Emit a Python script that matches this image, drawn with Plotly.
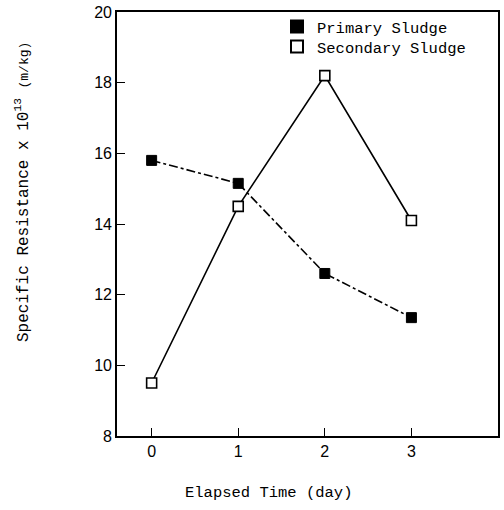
import plotly.graph_objects as go

days = [0, 1, 2, 3]
primary = [15.8, 15.15, 12.6, 11.35]
secondary = [9.5, 14.5, 18.2, 14.1]
x_ticks = [0, 1, 2, 3]
y_ticks = [8, 10, 12, 14, 16, 18, 20]

mono = "Liberation Mono, Courier New, monospace"
narrow = "Liberation Sans Narrow, Arial Narrow, Liberation Sans, sans-serif"

L, R, T, B = 117, 6, 12, 74
W, H = 504, 510
PW, PH = W - L - R, H - T - B

fig = go.Figure()
fig.add_trace(go.Scatter(
    x=days, y=primary, mode="lines+markers", showlegend=False,
    line=dict(color="black", width=1.6, dash="dashdot"),
    marker=dict(symbol="square", size=10, color="black", line=dict(color="black", width=1))))
fig.add_trace(go.Scatter(
    x=days, y=secondary, mode="lines+markers", showlegend=False,
    line=dict(color="black", width=1.6),
    marker=dict(symbol="square", size=10, color="white", line=dict(color="black", width=1.6))))
# legend entries
fig.add_trace(go.Scatter(
    x=[None], y=[None], mode="markers", name="Primary Sludge", legend="legend",
    marker=dict(symbol="square", size=10, color="black", line=dict(color="black", width=1))))
fig.add_trace(go.Scatter(
    x=[None], y=[None], mode="markers", name="Secondary Sludge", legend="legend2",
    marker=dict(symbol="square", size=10, color="white", line=dict(color="black", width=1.4))))

axis_common = dict(showline=True, linecolor="black", linewidth=1.6, mirror=True,
                   showgrid=False, zeroline=False, ticks="inside", ticklen=8,
                   tickwidth=1.4, tickcolor="black", automargin=False,
                   ticklabeloverflow="allow",
                   tickfont=dict(family=narrow, size=16, color="black"))
fig.update_xaxes(range=[-0.4, 4.0], tickvals=x_ticks, **axis_common)
fig.update_yaxes(range=[8, 20], tickvals=y_ticks, **axis_common)

leg_common = dict(xanchor="left", yanchor="top", bgcolor="rgba(0,0,0,0)", borderwidth=0,
                  font=dict(family=mono, size=15.5, color="black"), itemsizing="constant")
lx = (277 - L) / PW

fig.update_layout(
    width=W, height=H,
    margin=dict(l=L, r=R, t=T, b=B, autoexpand=False),
    paper_bgcolor="white", plot_bgcolor="white",
    legend=dict(x=lx, y=1 + (T - 10) / PH, **leg_common),
    legend2=dict(x=lx, y=1 - (30 - T) / PH, **leg_common),
    annotations=[
        dict(text="Elapsed Time (day)", xref="paper", yref="paper",
             x=(268 - L) / PW, y=-(493 - (T + PH)) / PH, xanchor="center", yanchor="middle",
             showarrow=False, font=dict(family=mono, size=15.5, color="black")),
        dict(text="Specific Resistance x 10<sup>13</sup> <span style='font-size:13px'>(m/kg)</span>",
             xref="paper", yref="paper",
             x=(22 - L) / PW, y=((T + PH) - 192) / PH, xanchor="center", yanchor="middle",
             textangle=-90, showarrow=False,
             font=dict(family=mono, size=16, color="black")),
    ],
)

fig.write_html("out.html", config={"displayModeBar": False},
               post_script="document.body.style.margin='0';")
